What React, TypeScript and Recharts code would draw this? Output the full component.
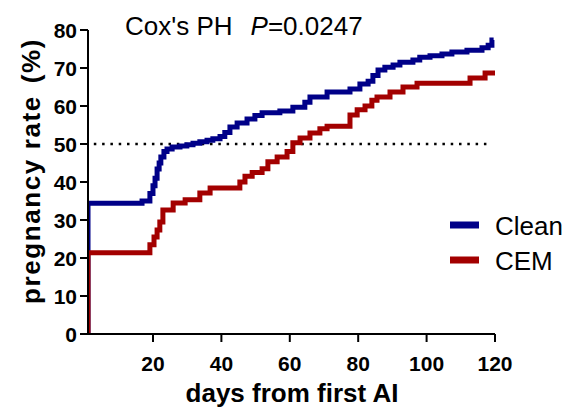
import React from "react";
import { LineChart, Line, XAxis, YAxis, ReferenceLine } from "recharts";

const FONT = "'Liberation Sans', Arial, sans-serif";

// days since first AI (step points) and cumulative pregnancy rate (%)
const cleanDays = [1, 1, 16.8, 19.1, 20, 20.6, 21.2, 21.8, 22.3, 23.2, 24.1, 25.6, 27.9, 29.9, 31.7, 33.7, 35.8, 37.5, 39.6, 41, 42.5, 44.6, 47.5, 49.8, 51.9, 57.1, 60.9, 64.4, 65.9, 70.9, 77.6, 80.5, 82.9, 84.3, 85.8, 87.8, 90.2, 92.2, 96, 98, 101, 104.5, 107.4, 111.8, 116.2, 118, 119.1, 119.6];
const cleanRate = [0, 34.4, 35, 37, 39, 41, 43.4, 45, 46.6, 48, 48.7, 49.2, 49.5, 49.8, 50.2, 50.6, 51, 51.4, 52, 53, 54.5, 55.5, 56.6, 57.5, 58.2, 58.7, 59.7, 61, 62.4, 63.7, 64.5, 65.8, 66.5, 68, 69.5, 70.2, 70.8, 71.5, 72.1, 72.8, 73.2, 73.7, 74.2, 74.7, 75.3, 76, 77.4, 77.4];

const cemDays = [1, 1, 19.1, 20.3, 21.2, 22, 22.9, 25.9, 29.4, 33.7, 36.7, 45.4, 46.9, 49, 51.9, 53.6, 56.3, 59.2, 60.9, 63, 65.9, 68.8, 70.9, 77.6, 79.7, 82, 84, 85.5, 89.3, 93.1, 97.2, 112.7, 117.1, 120];
const cemRate = [0, 21.4, 23.5, 25.5, 27.4, 29.5, 32.6, 34.5, 35.3, 37.1, 38.4, 40, 41.5, 42.5, 43.5, 45.3, 46.6, 48, 50.3, 51.6, 52.9, 54, 54.7, 57.6, 59, 60, 61.5, 62.4, 63.7, 65, 66, 67.4, 68.7, 68.7];

const xTicks = [20, 40, 60, 80, 100, 120];
const yTicks = [0, 10, 20, 30, 40, 50, 60, 70, 80];

const groups = ["Clean", "CEM"];
const BLUE = "#000088";
const RED = "#a30000";
const colors = [BLUE, RED];

const XTick = (props: any) => {
  const { x, y, payload } = props;
  return (
    <text x={x} y={y + 29} textAnchor="middle" fontSize={21} fontWeight="bold" fill="#000" fontFamily={FONT}>
      {payload.value}
    </text>
  );
};

const YTick = (props: any) => {
  const { x, y, payload } = props;
  return (
    <text x={x} y={y + 7.5} textAnchor="end" fontSize={21} fontWeight="bold" fill="#000" fontFamily={FONT}>
      {payload.value}
    </text>
  );
};

export default function App() {
  const clean = cleanDays.map((d, i) => ({ day: d, rate: cleanRate[i] }));
  const cem = cemDays.map((d, i) => ({ day: d, rate: cemRate[i] }));

  return (
    <div style={{ position: "absolute", left: 0, top: 0, width: 565, height: 412, background: "#fff", fontFamily: FONT }}>
      <LineChart width={565} height={412} margin={{ top: 30, right: 70, bottom: 0, left: 0 }}>
        <XAxis
          type="number"
          dataKey="day"
          domain={[1, 120]}
          ticks={xTicks}
          allowDataOverflow
          height={78}
          tickSize={8}
          tickMargin={0}
          axisLine={{ stroke: "#000", strokeWidth: 2 }}
          tickLine={{ stroke: "#000", strokeWidth: 2 }}
          tick={<XTick />}
        />
        <YAxis
          type="number"
          domain={[0, 80]}
          ticks={yTicks}
          width={88}
          tickSize={8}
          tickMargin={3}
          axisLine={{ stroke: "#000", strokeWidth: 2 }}
          tickLine={{ stroke: "#000", strokeWidth: 2 }}
          tick={<YTick />}
        />
        <ReferenceLine
          segment={[{ x: 2.7, y: 50 }, { x: 118, y: 50 }]}
          stroke="#000"
          strokeWidth={2.5}
          strokeDasharray="2.5 5.8"
        />
        <Line data={clean} dataKey="rate" name="Clean" type="stepAfter" stroke={BLUE} strokeWidth={5} dot={false} isAnimationActive={false} />
        <Line data={cem} dataKey="rate" name="CEM" type="stepAfter" stroke={RED} strokeWidth={5} dot={false} isAnimationActive={false} />
      </LineChart>
      <svg width={565} height={412} style={{ position: "absolute", left: 0, top: 0, pointerEvents: "none" }}>
        <text x={125} y={35} fontSize={26} fill="#000" fontFamily={FONT}>
          Cox's PH
          <tspan dx={18} fontStyle="italic">P</tspan>
          <tspan>=0.0247</tspan>
        </text>
        <text x={292} y={402} textAnchor="middle" fontSize={26} fontWeight="bold" fill="#000" fontFamily={FONT}>
          days from first AI
        </text>
        <text transform="translate(40,171) rotate(-90)" textAnchor="middle" fontSize={26} fontWeight="bold" fill="#000" fontFamily={FONT} letterSpacing={1.6}>
          pregnancy rate<tspan dx={12}>(%)</tspan>
        </text>
        {groups.map((g, i) => (
          <g key={g}>
            <line x1={450} x2={479} y1={225 + 35 * i} y2={225 + 35 * i} stroke={colors[i]} strokeWidth={7} />
            <text x={495} y={235 + 35 * i} fontSize={26} fill="#000" fontFamily={FONT}>
              {g}
            </text>
          </g>
        ))}
      </svg>
    </div>
  );
}
